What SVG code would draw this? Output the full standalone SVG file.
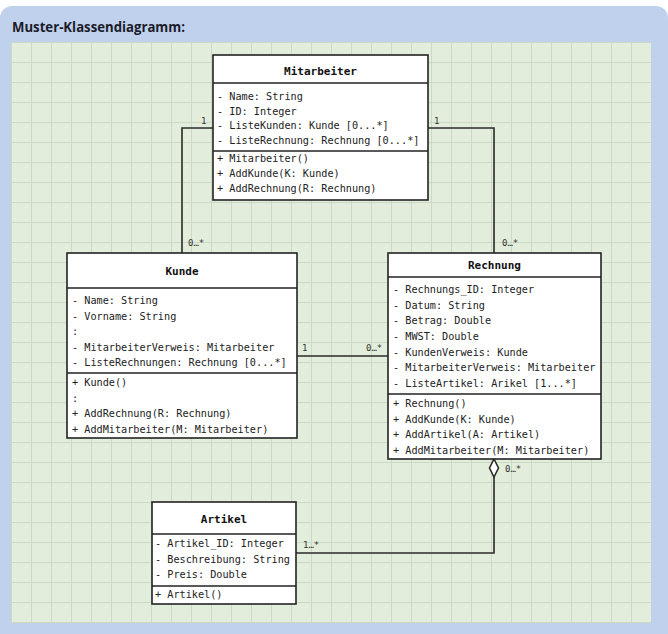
<svg xmlns="http://www.w3.org/2000/svg" width="668" height="634" viewBox="0 0 668 634">
<defs>
<pattern id="grid" x="11" y="42" width="20" height="20" patternUnits="userSpaceOnUse">
<rect width="20" height="20" fill="#e2eedb"/>
<path d="M0 0.5H20M0.5 0V20" stroke="#ccd9c5" stroke-width="1" fill="none"/>
</pattern>
<style>
.box{fill:#ffffff;stroke:#222222;stroke-width:1.6}
.sep{stroke:#222222;stroke-width:1.4}
.hd{font-family:"DejaVu Sans Mono","Liberation Mono",monospace;font-size:11px;font-weight:bold;fill:#111;text-anchor:middle}
.tx{font-family:"DejaVu Sans Mono","Liberation Mono",monospace;font-size:10.2px;fill:#222}
.lb{font-family:"DejaVu Sans Mono","Liberation Mono",monospace;font-size:9px;fill:#333}
.con{fill:none;stroke:#2a2a2a;stroke-width:1.6}
</style>
</defs>
<rect x="0" y="6" width="668" height="640" rx="12" fill="#bfd1ec"/>
<text x="12" y="32" font-family="'Open Sans','Noto Sans',sans-serif" font-size="14" font-weight="bold" fill="#1b1b2a" textLength="173" lengthAdjust="spacingAndGlyphs">Muster-Klassendiagramm:</text>
<rect x="11" y="42" width="640" height="581" fill="url(#grid)"/>

<g id="connectors">
<path class="con" d="M213 128H182V253"/>
<path class="con" d="M428 128H494V253"/>
<path class="con" d="M297 356H388"/>
<path class="con" d="M494 477V553H296"/>
<path d="M494 459L498.5 468L494 477L489.5 468Z" fill="#ffffff" stroke="#2a2a2a" stroke-width="1.6"/>
<text class="lb" x="201" y="124">1</text>
<text class="lb" x="434" y="124">1</text>
<text class="lb" x="188" y="246">0…*</text>
<text class="lb" x="502" y="246">0…*</text>
<text class="lb" x="302" y="351">1</text>
<text class="lb" x="366" y="351">0…*</text>
<text class="lb" x="505" y="472">0…*</text>
<text class="lb" x="303" y="548">1…*</text>
</g>

<g id="Mitarbeiter">
<rect class="box" x="213" y="55" width="215" height="145"/>
<line class="sep" x1="213" y1="83" x2="428" y2="83"/>
<line class="sep" x1="213" y1="151" x2="428" y2="151"/>
<text class="hd" x="320.5" y="75">Mitarbeiter</text>
<text class="tx" x="217" y="100">- Name: String</text>
<text class="tx" x="217" y="114.5">- ID: Integer</text>
<text class="tx" x="217" y="129">- ListeKunden: Kunde [0...*]</text>
<text class="tx" x="217" y="143.5">- ListeRechnung: Rechnung [0...*]</text>
<text class="tx" x="217" y="162">+ Mitarbeiter()</text>
<text class="tx" x="217" y="177">+ AddKunde(K: Kunde)</text>
<text class="tx" x="217" y="192">+ AddRechnung(R: Rechnung)</text>
</g>

<g id="Kunde">
<rect class="box" x="67" y="253" width="230" height="185"/>
<line class="sep" x1="67" y1="288" x2="297" y2="288"/>
<line class="sep" x1="67" y1="373" x2="297" y2="373"/>
<text class="hd" x="182" y="275">Kunde</text>
<text class="tx" x="72" y="304">- Name: String</text>
<text class="tx" x="72" y="319.5">- Vorname: String</text>
<text class="tx" x="72" y="335">:</text>
<text class="tx" x="72" y="350.5">- MitarbeiterVerweis: Mitarbeiter</text>
<text class="tx" x="72" y="366">- ListeRechnungen: Rechnung [0...*]</text>
<text class="tx" x="72" y="386">+ Kunde()</text>
<text class="tx" x="72" y="401.5">:</text>
<text class="tx" x="72" y="417">+ AddRechnung(R: Rechnung)</text>
<text class="tx" x="72" y="432.5">+ AddMitarbeiter(M: Mitarbeiter)</text>
</g>

<g id="Rechnung">
<rect class="box" x="388" y="253" width="213" height="206"/>
<line class="sep" x1="388" y1="277" x2="601" y2="277"/>
<line class="sep" x1="388" y1="394" x2="601" y2="394"/>
<text class="hd" x="494.5" y="269">Rechnung</text>
<text class="tx" x="393" y="293">- Rechnungs_ID: Integer</text>
<text class="tx" x="393" y="308.7">- Datum: String</text>
<text class="tx" x="393" y="324.3">- Betrag: Double</text>
<text class="tx" x="393" y="340">- MWST: Double</text>
<text class="tx" x="393" y="355.7">- KundenVerweis: Kunde</text>
<text class="tx" x="393" y="371.3">- MitarbeiterVerweis: Mitarbeiter</text>
<text class="tx" x="393" y="387">- ListeArtikel: Arikel [1...*]</text>
<text class="tx" x="393" y="407">+ Rechnung()</text>
<text class="tx" x="393" y="422.5">+ AddKunde(K: Kunde)</text>
<text class="tx" x="393" y="438">+ AddArtikel(A: Artikel)</text>
<text class="tx" x="393" y="453.5">+ AddMitarbeiter(M: Mitarbeiter)</text>
</g>

<g id="Artikel">
<rect class="box" x="152" y="502" width="144" height="102"/>
<line class="sep" x1="152" y1="534" x2="296" y2="534"/>
<line class="sep" x1="152" y1="586" x2="296" y2="586"/>
<text class="hd" x="224" y="523">Artikel</text>
<text class="tx" x="155" y="547">- Artikel_ID: Integer</text>
<text class="tx" x="155" y="562.5">- Beschreibung: String</text>
<text class="tx" x="155" y="578">- Preis: Double</text>
<text class="tx" x="155" y="598">+ Artikel()</text>
</g>
</svg>
